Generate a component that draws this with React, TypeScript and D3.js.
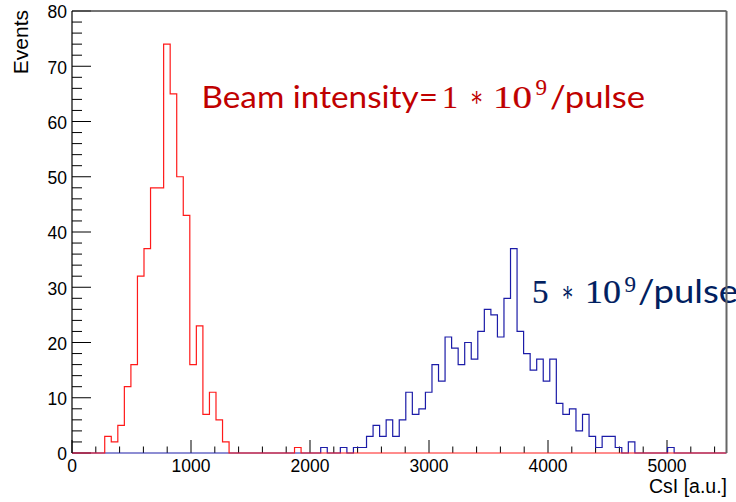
import React from 'react';
import * as d3 from 'd3';

const BIN_WIDTH = 55;
const N_BINS = 100;
const X_MAX = 5500;
const Y_MAX = 80;

const redFirstBin = 5;
const redCounts = [3, 2, 5, 12, 16, 32, 37, 48, 48, 74, 65, 50, 43, 16, 23, 7, 11, 6, 2, 0, 0, 0, 0, 0, 0, 0, 0, 0, 0, 1];

const blueFirstBin = 38;
const blueCounts = [
  1, 0, 0, 1, 0, 1, 1, 3, 5, 3,
  6, 3, 6, 11, 7, 8, 11, 16, 13, 21,
  19, 16, 20, 17, 22, 26, 25, 21, 28, 37,
  22, 18, 15, 17, 13, 17, 9, 7, 8, 4,
  7, 3, 1, 3, 3, 1, 0, 2, 0, 0,
  0, 0, 0, 1,
];

const yTickLabels = [0, 10, 20, 30, 40, 50, 60, 70, 80];
const xTickLabels = [0, 1000, 2000, 3000, 4000, 5000];

const W = 736;
const H = 502;
const L = 72;
const R = 726.5;
const T = 11;
const B = 453;

function fullBins(first: number, counts: number[]): number[] {
  const arr = new Array(N_BINS).fill(0);
  counts.forEach((c, i) => { arr[first + i] = c; });
  return arr;
}

export default function App() {
  const x = d3.scaleLinear().domain([0, X_MAX]).range([L, R]);
  const y = d3.scaleLinear().domain([0, Y_MAX]).range([B, T]);

  const histPath = (bins: number[]) => {
    const pts: [number, number][] = [[0, 0]];
    bins.forEach((v, i) => pts.push([i * BIN_WIDTH, v]));
    pts.push([N_BINS * BIN_WIDTH, bins[N_BINS - 1]]);
    pts.push([N_BINS * BIN_WIDTH, 0]);
    const line = d3.line<[number, number]>()
      .x(d => x(d[0]))
      .y(d => y(d[1]))
      .curve(d3.curveStepAfter);
    return line(pts) || '';
  };

  const red = fullBins(redFirstBin, redCounts);
  const blue = fullBins(blueFirstBin, blueCounts);

  const yMinor = d3.range(0, Y_MAX + 0.001, 2);
  const xMinor = d3.range(0, X_MAX, 200);

  const axisFont = 'Liberation Sans, Arial, Helvetica, sans-serif';
  const textFont = 'Lato, Open Sans, sans-serif';
  const mathFont = 'Liberation Serif, DejaVu Serif, serif';
  const starFont = 'DejaVu Serif, serif';

  return (
    <svg width={W} height={H} viewBox={`0 0 ${W} ${H}`}
      style={{ position: 'absolute', left: 0, top: 0, background: '#fff' }}>
      <rect x={0} y={0} width={W} height={H} fill="#fff" />

      {/* y ticks */}
      {yMinor.map(v => (
        <line key={'ym' + v} x1={L} x2={L + (v % 10 === 0 ? 19 : 10)} y1={y(v)} y2={y(v)}
          stroke="#000" strokeWidth={1} />
      ))}
      {/* x ticks */}
      {xMinor.map(v => (
        <line key={'xm' + v} x1={x(v)} x2={x(v)} y1={B} y2={B - (v % 1000 === 0 ? 13 : 6.5)}
          stroke="#000" strokeWidth={1} />
      ))}

      {/* histograms */}
      <path d={histPath(blue)} fill="none" stroke="#1c1ca8" strokeWidth={1.2} />
      <path d={histPath(red)} fill="none" stroke="#ff1a1a" strokeWidth={1.2} />

      {/* annotations */}
      <g fill="#c00000" stroke="#c00000">
        <text x={201.5} y={107.5} fontFamily={textFont} fontSize={31} strokeWidth={0} textLength={236.5} lengthAdjust="spacingAndGlyphs">Beam intensity=</text>
        <text x={442} y={107.5} fontFamily={mathFont} fontSize={32} strokeWidth={0.2}>1</text>
        <text x={469.5} y={105.5} fontFamily={starFont} fontSize={28} strokeWidth={0} textLength={14} lengthAdjust="spacingAndGlyphs">∗</text>
        <text x={493} y={107.5} fontFamily={mathFont} fontSize={32} strokeWidth={0.2} textLength={39} lengthAdjust="spacingAndGlyphs">10</text>
        <text x={535.5} y={94.5} fontFamily={mathFont} fontSize={23} strokeWidth={0.1}>9</text>
        <text x={550} y={107.5} fontFamily={textFont} fontSize={31} strokeWidth={0} textLength={95} lengthAdjust="spacingAndGlyphs">/pulse</text>
      </g>
      <g fill="#002060" stroke="#002060">
        <text x={532} y={303.3} fontFamily={mathFont} fontSize={33} strokeWidth={0.2}>5</text>
        <text x={561} y={301.3} fontFamily={starFont} fontSize={28} strokeWidth={0} textLength={13} lengthAdjust="spacingAndGlyphs">∗</text>
        <text x={585} y={303.3} fontFamily={mathFont} fontSize={33} strokeWidth={0.2} textLength={36} lengthAdjust="spacingAndGlyphs">10</text>
        <text x={624.5} y={292} fontFamily={mathFont} fontSize={23} strokeWidth={0.1}>9</text>
        <text x={638} y={303.3} fontFamily={textFont} fontSize={32} strokeWidth={0} textLength={100} lengthAdjust="spacingAndGlyphs">/pulse</text>
      </g>

      {/* frame */}
      <line x1={L} x2={R} y1={T} y2={T} stroke="#444" strokeWidth={1.5} />
      <line x1={R} x2={R} y1={T} y2={B} stroke="#666" strokeWidth={2} />
      <line x1={L} x2={L} y1={T} y2={B} stroke="#000" strokeWidth={1.2} />

      {/* y tick labels */}
      {yTickLabels.map(v => (
        <text key={'yl' + v} x={67} y={y(v) + 1} dy="0.36em" textAnchor="end"
          fontFamily={axisFont} fontSize={17.5} fill="#000">{v}</text>
      ))}
      {/* x tick labels */}
      {xTickLabels.map(v => (
        <text key={'xl' + v} x={x(v)} y={471.5} textAnchor="middle"
          fontFamily={axisFont} fontSize={17.5} fill="#000">{v}</text>
      ))}

      <text x={727} y={492.5} textAnchor="end" fontFamily={axisFont} fontSize={19.5} fill="#000">CsI [a.u.]</text>
      <text transform={`translate(27.5,10) rotate(-90)`} textAnchor="end"
        fontFamily={axisFont} fontSize={21} fill="#000">Events</text>
    </svg>
  );
}
